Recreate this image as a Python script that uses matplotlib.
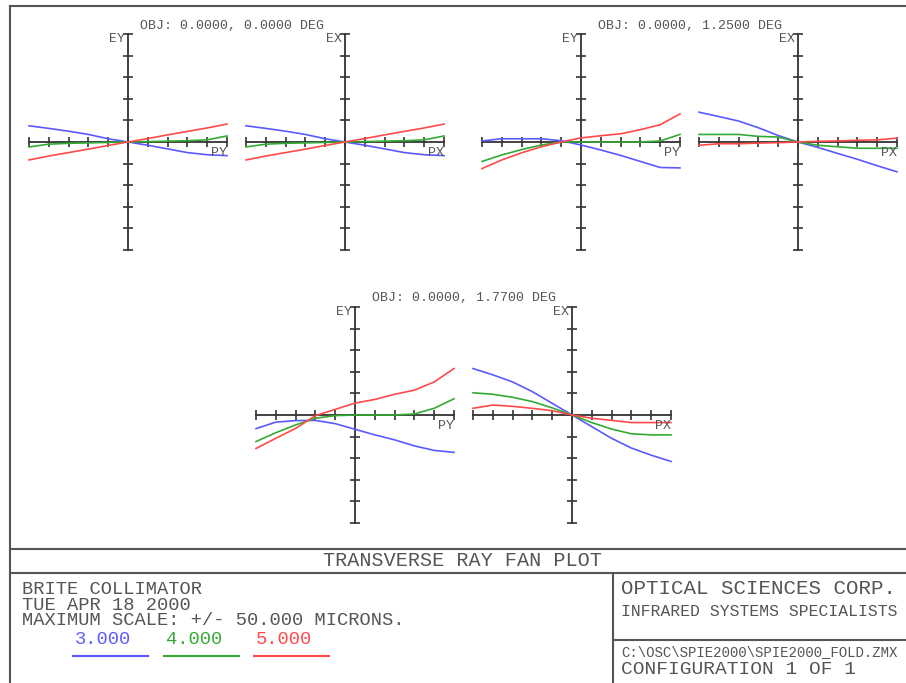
import matplotlib
matplotlib.use("Agg")
import matplotlib.pyplot as plt

# pupil coordinate for every sample (-1 .. 1)
pupil = [-1.0, -0.8, -0.6, -0.4, -0.2, 0.0, 0.2, 0.4, 0.6, 0.8, 1.0]
pupil_ticks = [-1.0, -0.8, -0.6, -0.4, -0.2, 0.0, 0.2, 0.4, 0.6, 0.8, 1.0]
error_ticks = [-50, -40, -30, -20, -10, 0, 10, 20, 30, 40, 50]

wavelengths = ["3.000", "4.000", "5.000"]
colors = ["#5a5aff", "#33aa33", "#ff4a4a"]

# field 0.0 deg  (microns)
ey_0_blue = [7.5, 6.3, 5.0, 3.5, 1.5, 0.0, -1.5, -3.2, -4.9, -5.9, -6.3]
ey_0_green = [-2.3, -1.0, -0.6, -0.4, -0.2, 0.0, 0.2, 0.4, 0.6, 1.0, 2.8]
ey_0_red = [-8.3, -6.5, -4.9, -3.3, -1.6, 0.0, 1.6, 3.3, 4.9, 6.5, 8.3]
ex_0_blue = [7.5, 6.3, 5.0, 3.5, 1.5, 0.0, -1.5, -3.2, -4.9, -5.9, -6.3]
ex_0_green = [-2.3, -1.0, -0.6, -0.4, -0.2, 0.0, 0.2, 0.4, 0.6, 1.0, 2.8]
ex_0_red = [-8.3, -6.5, -4.9, -3.3, -1.6, 0.0, 1.6, 3.3, 4.9, 6.5, 8.3]

# field 1.25 deg
ey_125_blue = [0.5, 1.5, 1.5, 1.5, 0.6, -1.4, -3.7, -6.2, -9.0, -11.8, -12.0]
ey_125_green = [-9.0, -6.0, -3.5, -1.4, 0.0, 0.0, 0.0, 0.0, 0.0, 0.5, 3.5]
ey_125_red = [-12.3, -8.3, -5.0, -2.2, 0.0, 1.9, 2.9, 3.8, 5.7, 8.0, 13.0]
ex_125_blue = [13.8, 11.8, 9.7, 6.6, 3.0, 0.0, -2.5, -5.3, -8.0, -11.0, -13.8]
ex_125_green = [3.5, 3.5, 3.5, 2.6, 2.3, 0.0, -1.5, -2.2, -2.9, -2.9, -2.9]
ex_125_red = [-1.5, -0.8, -0.8, -0.5, -0.3, 0.0, 0.3, 0.5, 0.8, 1.0, 1.8]

# field 1.77 deg
ey_177_blue = [-6.3, -3.3, -2.6, -2.5, -4.0, -6.6, -9.2, -11.5, -14.3, -16.4, -17.3]
ey_177_green = [-12.3, -8.2, -4.6, -1.5, -0.3, 0.0, 0.0, 0.0, 0.5, 3.1, 7.5]
ey_177_red = [-15.5, -10.8, -6.2, -0.3, 2.6, 5.5, 7.2, 9.6, 11.5, 15.3, 21.5]
ex_177_blue = [21.5, 18.6, 15.3, 10.8, 5.4, 0.0, -5.4, -10.8, -15.3, -18.6, -21.5]
ex_177_green = [10.3, 9.6, 8.2, 6.2, 3.3, 0.0, -3.5, -6.5, -8.7, -9.2, -9.2]
ex_177_red = [3.1, 4.6, 4.0, 3.1, 2.0, 0.0, -1.5, -2.5, -3.5, -3.5, -3.5]

W, H = 906, 683
AXC = "#333333"
TXC = "#555555"
FONT = "Liberation Mono"

fig = plt.figure(figsize=(W / 100, H / 100), dpi=100)
fig.patch.set_facecolor("white")

# overlay in pixel units for the frame and title block
frame = fig.add_axes([0, 0, 1, 1])
frame.set_xlim(0, W)
frame.set_ylim(H, 0)
frame.axis("off")


def panel(cx, cy, series, vlabel, hlabel):
    # one fan: pupil -1..1 across 198 px, +/-50 microns across 216 px
    ax = fig.add_axes([(cx - 99) / W, 1 - (cy + 108) / H, 198 / W, 216 / H])
    ax.set_xlim(-1, 1)
    ax.set_ylim(-50, 50)
    ax.axis("off")
    for ys, c in zip(series, colors):
        ax.plot(pupil, ys, color=c, lw=1.2, clip_on=False, zorder=3)
    ax.plot([-1, 1], [0, 0], color=AXC, lw=1.3, clip_on=False, zorder=2)
    ax.plot([0, 0], [-50, 50], color=AXC, lw=1.3, clip_on=False, zorder=2)
    ax.plot(pupil_ticks, [0] * len(pupil_ticks), ls="none", marker="|",
            ms=7.5, mew=1.2, color=AXC, clip_on=False, zorder=2)
    ax.plot([0] * len(error_ticks), error_ticks, ls="none", marker="_",
            ms=6.5, mew=1.2, color=AXC, clip_on=False, zorder=2)
    ax.text(-0.03, 50.5, vlabel, ha="right", va="top", fontsize=9.5,
            family=FONT, color=TXC)
    ax.text(1.0, -2.5, hlabel, ha="right", va="top", fontsize=9.5,
            family=FONT, color=TXC)


panel(128, 142, [ey_0_blue, ey_0_green, ey_0_red], "EY", "PY")
panel(345, 142, [ex_0_blue, ex_0_green, ex_0_red], "EX", "PX")
panel(581, 142, [ey_125_blue, ey_125_green, ey_125_red], "EY", "PY")
panel(798, 142, [ex_125_blue, ex_125_green, ex_125_red], "EX", "PX")
panel(355, 415, [ey_177_blue, ey_177_green, ey_177_red], "EY", "PY")
panel(572, 415, [ex_177_blue, ex_177_green, ex_177_red], "EX", "PX")

for x, y, s in [(232, 26, "OBJ: 0.0000, 0.0000 DEG"),
                (690, 26, "OBJ: 0.0000, 1.2500 DEG"),
                (464, 298, "OBJ: 0.0000, 1.7700 DEG")]:
    frame.text(x, y, s, ha="center", va="center", fontsize=9.5,
               family=FONT, color=TXC)

# frame lines
lc = "#555555"
frame.plot([10, 10], [6, H], color=lc, lw=1.5)
frame.plot([10, W], [6, 6], color=lc, lw=1.5)
frame.plot([10, W], [549, 549], color=lc, lw=1.5)
frame.plot([10, W], [573, 573], color=lc, lw=1.5)
frame.plot([613, 613], [573, H], color=lc, lw=1.5)
frame.plot([613, W], [640, 640], color=lc, lw=1.5)

frame.text(462, 561, "TRANSVERSE RAY FAN PLOT", ha="center", va="center",
           fontsize=14.5, family=FONT, color=TXC)

left_lines = ["BRITE COLLIMATOR", "TUE APR 18 2000",
              "MAXIMUM SCALE: +/- 50.000 MICRONS."]
frame.text(22, 605, "\n".join(left_lines), ha="left", va="center",
           fontsize=13.5, linespacing=0.88, family=FONT, color=TXC)

legend_x = [75, 166, 256]
for x, s, c in zip(legend_x, wavelengths, colors):
    frame.text(x, 639, s, ha="left", va="center", fontsize=13.5,
               family=FONT, color=c)
    frame.plot([x - 2, x + 73], [656, 656], color=c, lw=1.5)

frame.text(621, 589, "OPTICAL SCIENCES CORP.", ha="left", va="center",
           fontsize=15, family=FONT, color=TXC)
frame.text(621, 612, "INFRARED SYSTEMS SPECIALISTS", ha="left", va="center",
           fontsize=11.8, family=FONT, color=TXC)
frame.text(621, 652, "C:\\OSC\\SPIE2000\\SPIE2000_FOLD.ZMX", ha="left",
           va="center", fontsize=10.1, family=FONT, color=TXC)
frame.text(621, 669, "CONFIGURATION 1 OF 1", ha="left", va="center",
           fontsize=14, family=FONT, color=TXC)

fig.savefig("out.png", dpi=100)
